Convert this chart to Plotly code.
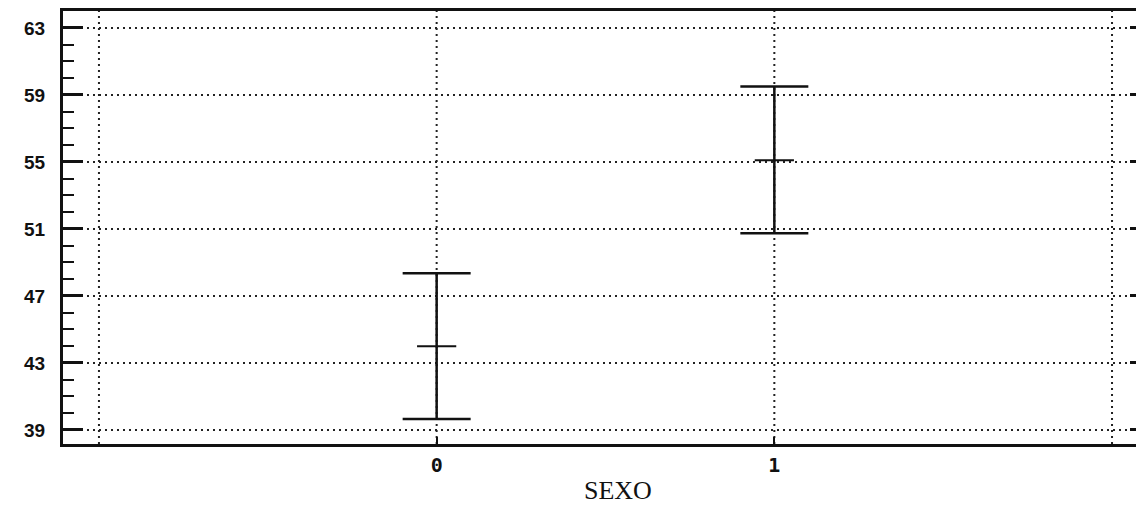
import plotly.graph_objects as go

# ---- data ----
categories = [0, 1]
means = [44.0, 55.1]
upper = [48.35, 59.5]
lower = [39.65, 50.75]
y_ticks = [39, 43, 47, 51, 55, 59, 63]
x_ticks = [0, 1]
x_grid = [-1, 0, 1, 2]
x_title = "SEXO"

err_plus = [u - m for u, m in zip(upper, means)]
err_minus = [m - l for m, l in zip(means, lower)]

fig = go.Figure()
fig.add_trace(go.Scatter(
    x=categories, y=means, mode="markers",
    marker=dict(symbol="line-ew", size=28, line=dict(width=2, color="#111")),
    error_y=dict(type="data", symmetric=False, array=err_plus, arrayminus=err_minus,
                 color="#111", thickness=2.5, width=34),
    showlegend=False, hoverinfo="skip",
))

# dotted vertical grid lines (including ones at -1 and 2)
for gx in x_grid:
    fig.add_shape(type="line", xref="x", yref="paper", x0=gx, x1=gx, y0=0, y1=1,
                  line=dict(color="#222", width=2, dash="2px,4px"), layer="below")

tickfont = dict(family="Liberation Sans Narrow, Liberation Sans, Arial, sans-serif",
                size=19, color="#111", weight="bold")

PW = 1082  # plot width in px
fig.update_layout(
    width=1136, height=501,
    margin=dict(l=55, r=0, t=3, b=65),
    paper_bgcolor="white", plot_bgcolor="white",
    xaxis=dict(
        range=[-1.1065, 2.0947], tickvals=x_ticks, ticktext=["0", "1"],
        showgrid=False, zeroline=False,
        showline=True, linecolor="#111", linewidth=3, mirror=True,
        ticks="inside", ticklen=7, tickwidth=2, tickcolor="#111",
        ticklabelstandoff=1,
        tickfont=dict(family="DejaVu Sans Mono, monospace", size=20, color="#111", weight="bold"),
    ),
    yaxis=dict(
        range=[38.164, 64.01], tickvals=y_ticks,
        showgrid=True, gridcolor="#222", gridwidth=2, griddash="2px,4px",
        zeroline=False,
        showline=True, linecolor="#111", linewidth=3, mirror=False,
        ticks="inside", ticklen=20, tickwidth=3, tickcolor="#111",
        minor=dict(dtick=1, ticks="inside", ticklen=11, tickwidth=2, tickcolor="#111", showgrid=False),
        ticklabelstandoff=11,
        tickfont=tickfont,
    ),
    yaxis2=dict(
        overlaying="y", side="right", range=[38.164, 64.01], tickvals=y_ticks,
        showgrid=False, zeroline=False, showline=False, showticklabels=False,
        ticks="inside", ticklen=14, tickwidth=3, tickcolor="#111",
        minor=dict(dtick=1, ticks="inside", ticklen=4, tickwidth=3, tickcolor="#111", showgrid=False),
    ),
    annotations=[dict(text=x_title, xref="paper", yref="paper", x=(618 - 62) / PW, y=-0.108,
                      xanchor="center", yanchor="middle", showarrow=False,
                      font=dict(family="Liberation Serif, Times New Roman, serif", size=26, color="#111"))],
)

# invisible trace to activate yaxis2
fig.add_trace(go.Scatter(x=[categories[0]], y=[means[0]], yaxis="y2", mode="markers",
                         marker=dict(opacity=0), showlegend=False, hoverinfo="skip"))

fig.write_html("out.html")
